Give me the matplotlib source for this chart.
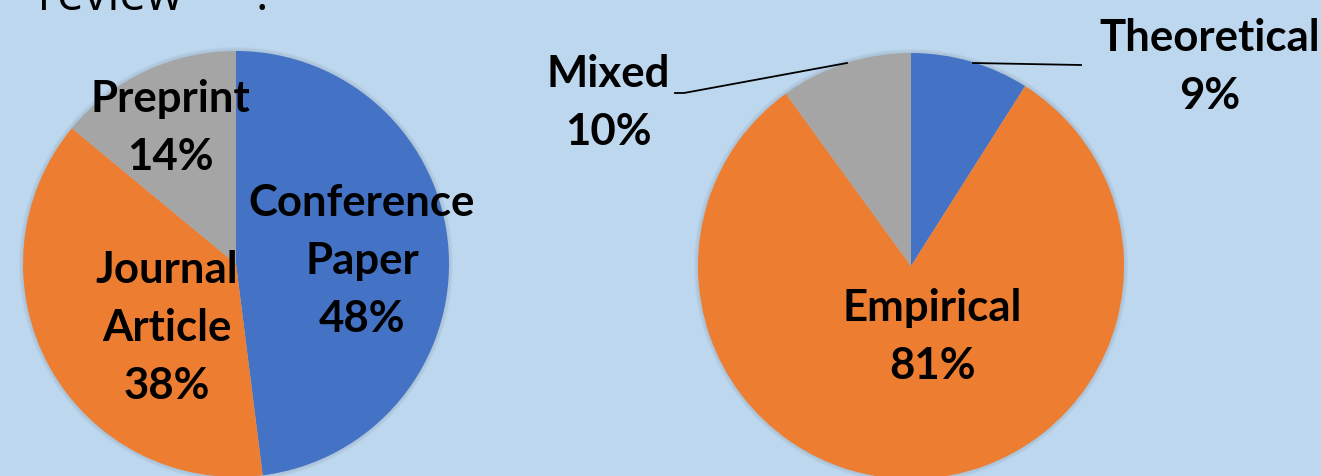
import numpy as np
import matplotlib.pyplot as plt

plt.rcParams['font.family'] = ['Lato', 'DejaVu Sans']

# left pie: publication type
typeLabels = ["Conference\nPaper", "Journal\nArticle", "Preprint"]
typeShare = [48, 38, 14]

# right pie: study kind
kindLabels = ["Theoretical", "Empirical", "Mixed"]
kindShare = [9, 81, 10]

colors = ["#4472C4", "#ED7D31", "#A5A5A5"]
bg = "#BDD7EE"
W, H = 1321, 477
R = 213

fig = plt.figure(figsize=(W/100, H/100), dpi=100, facecolor=bg)
ax = fig.add_axes([0, 0, 1, 1])
ax.set_xlim(0, W)
ax.set_ylim(0, H)
ax.set_aspect('equal')
ax.axis('off')

def pie(vals, cx, cy):
    # faint shadow ring behind the pie
    for k in range(4):
        ax.add_patch(plt.Circle((cx, H - cy), R + 4 - k, color='#9fb5c9',
                                alpha=0.18, lw=0, zorder=0))
    ax.pie(vals, colors=colors, startangle=90, counterclock=False,
           center=(cx, H - cy), radius=R, frame=True,
           wedgeprops=dict(linewidth=0))

pie(typeShare, 236, 265)
pie(kindShare, 911, 267)
ax.set_xlim(0, W)
ax.set_ylim(0, H)
ax.axis('off')

fs = 31.5
def label(txt, x, y):
    ax.text(x, H - y, txt, ha='center', va='center', fontsize=fs,
            fontweight='bold', linespacing=1.55)

# left labels
label(typeLabels[0] + "\n%d%%" % typeShare[0], 362, 261)
label(typeLabels[1] + "\n%d%%" % typeShare[1], 167, 328)
label(typeLabels[2] + "\n%d%%" % typeShare[2], 170, 128)

# right labels
label(kindLabels[0] + "\n%d%%" % kindShare[0], 1210, 67)
label(kindLabels[1] + "\n%d%%" % kindShare[1], 932, 337)
label(kindLabels[2] + "\n%d%%" % kindShare[2], 608, 103)

# leader lines
ax.plot([973, 1081], [H - 64, H - 66], color='black', lw=1.3)
ax.plot([675, 684, 847], [H - 94, H - 94, H - 64], color='black', lw=1.3)

# cut-off heading text at the top
ax.text(38, H - 10, "review      :", ha='left', va='baseline', fontsize=34,
        family=['Open Sans', 'DejaVu Sans'])

fig.savefig("out.png", dpi=100, facecolor=bg)
